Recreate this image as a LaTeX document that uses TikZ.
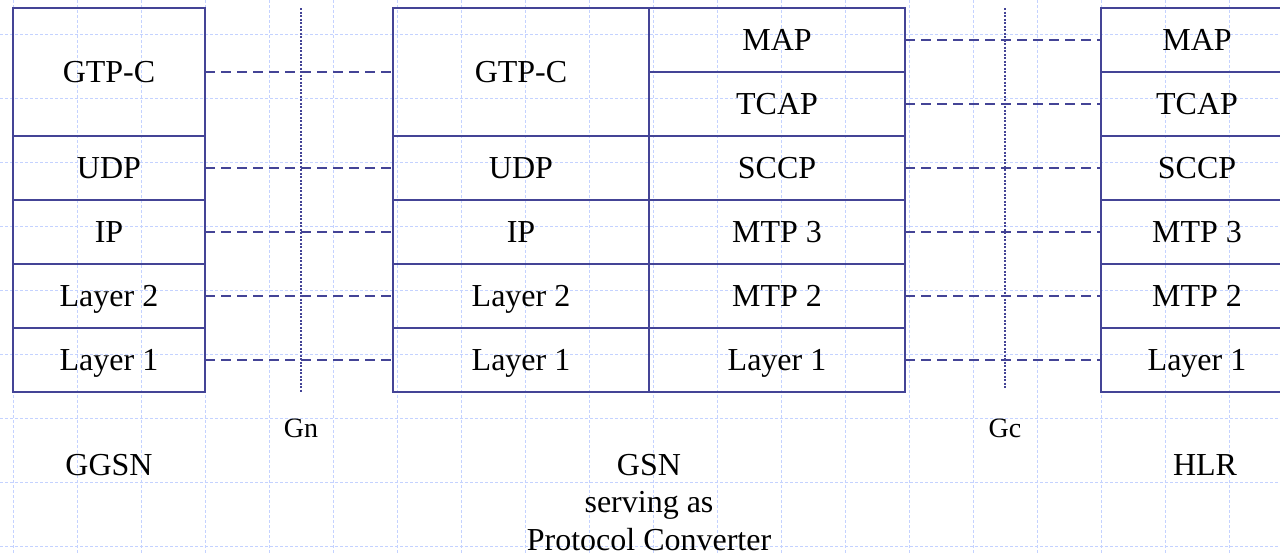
\documentclass[tikz,border=0pt]{standalone}
\usepackage{fontspec}
\setmainfont{Liberation Serif}
\definecolor{boxblue}{RGB}{68,68,150}
\definecolor{gridblue}{RGB}{196,210,255}
\tikzset{
  cell/.style={draw=boxblue, line width=2pt, inner sep=0pt, outer sep=0pt,
    minimum height=64pt, text height=21pt, text depth=0pt,
    font=\fontsize{32}{37.5}\selectfont},
  narrow/.style={cell, minimum width=192pt},
  wide/.style={cell, minimum width=256pt},
  peer/.style={draw=boxblue, line width=1.5pt, dash pattern=on 10pt off 6pt},
  iface/.style={draw=boxblue, line width=1.5pt, dash pattern=on 2pt off 1.5pt},
  lbl/.style={inner sep=0pt, anchor=base, font=\fontsize{32}{37.5}\selectfont},
  ifl/.style={inner sep=0pt, anchor=base, font=\fontsize{28}{33}\selectfont},
  gridline/.style={draw=gridblue, line width=0.8pt, dash pattern=on 3pt off 2pt}
}
\begin{document}
\begin{tikzpicture}[x=1pt, y=-1pt]
\useasboundingbox (0,0) rectangle (1280,554);
% background grid
\foreach \k in {0,...,19} { \draw[gridline] ({13+64*\k},0) -- ({13+64*\k},554); }
\foreach \k in {0,...,8} { \draw[gridline] (0,{34+64*\k}) -- (1280,{34+64*\k}); }

% GGSN stack
\node[narrow, minimum height=128pt] (ggtp) at (109,72) {GTP-C};
\node[narrow] (gudp) at (109,168) {UDP};
\node[narrow] (gip)  at (109,232) {IP};
\node[narrow] (gl2)  at (109,296) {Layer 2};
\node[narrow] (gl1)  at (109,360) {Layer 1};

% GSN stack, left column
\node[wide, minimum height=128pt] (mgtp) at (521,72) {GTP-C};
\node[wide] (mudp) at (521,168) {UDP};
\node[wide] (mip)  at (521,232) {IP};
\node[wide] (ml2)  at (521,296) {Layer 2};
\node[wide] (ml1)  at (521,360) {Layer 1};

% GSN stack, right column
\node[wide] (mmap)  at (777,40)  {MAP};
\node[wide] (mtcap) at (777,104) {TCAP};
\node[wide] (msccp) at (777,168) {SCCP};
\node[wide] (mmtp3) at (777,232) {MTP 3};
\node[wide] (mmtp2) at (777,296) {MTP 2};
\node[wide] (mml1)  at (777,360) {Layer 1};

% HLR stack
\node[narrow] (hmap)  at (1197,40)  {MAP};
\node[narrow] (htcap) at (1197,104) {TCAP};
\node[narrow] (hsccp) at (1197,168) {SCCP};
\node[narrow] (hmtp3) at (1197,232) {MTP 3};
\node[narrow] (hmtp2) at (1197,296) {MTP 2};
\node[narrow] (hl1)   at (1197,360) {Layer 1};

% peer connections
\draw[peer] (ggtp.east) -- (mgtp.west);
\draw[peer] (gudp.east) -- (mudp.west);
\draw[peer] (gip.east)  -- (mip.west);
\draw[peer] (gl2.east)  -- (ml2.west);
\draw[peer] (gl1.east)  -- (ml1.west);
\draw[peer] (mmap.east)  -- (hmap.west);
\draw[peer] (mtcap.east) -- (htcap.west);
\draw[peer] (msccp.east) -- (hsccp.west);
\draw[peer] (mmtp3.east) -- (hmtp3.west);
\draw[peer] (mmtp2.east) -- (hmtp2.west);
\draw[peer] (mml1.east)  -- (hl1.west);

% interfaces
\coordinate (gntop) at (301,8);
\coordinate (gnbot) at (301,392);
\coordinate (gctop) at (1005,8);
\coordinate (gcbot) at (1005,389);
\draw[iface] (gntop) -- (gnbot);
\draw[iface] (gctop) -- (gcbot);
\node[ifl] (gn) at (301,437) {Gn};
\node[ifl] (gc) at (1005,437) {Gc};

% entity labels
\node[lbl] (ggsn) at (109,475) {GGSN};
\node[lbl] (hlr)  at (1205,475) {HLR};
\node[inner sep=0pt, anchor=north, align=center,
      font=\fontsize{32}{37.5}\selectfont] (gsn) at (649,453.8)
      {GSN\\serving as\\Protocol Converter};
\end{tikzpicture}
\end{document}
